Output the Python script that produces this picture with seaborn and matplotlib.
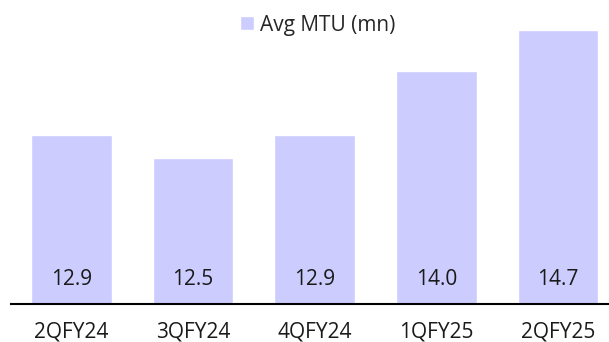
import matplotlib
matplotlib.use("Agg")
import matplotlib.pyplot as plt
import seaborn as sns
import pandas as pd

quarters = ["2QFY24", "3QFY24", "4QFY24", "1QFY25", "2QFY25"]
avg_mtu = [12.9, 12.5, 12.9, 14.0, 14.7]
series_name = "Avg MTU (mn)"
bar_color = "#CCCCFF"

sns.set_theme(style="white")
plt.rcParams["font.family"] = ["Open Sans", "DejaVu Sans"]

df = pd.DataFrame({"quarter": quarters, "value": avg_mtu})

fig = plt.figure(figsize=(6.09, 3.42), dpi=100)
ax = fig.add_axes([11 / 609, 38 / 342, 598 / 609, 304 / 342])

sns.barplot(data=df, x="quarter", y="value", color=bar_color, width=0.664,
            saturation=1, label=series_name, ax=ax)

ax.set_ylim(10, 10 + 304 / 58.3)
ax.set_xlim(-0.497, 4.42)

for i, v in enumerate(avg_mtu):
    ax.annotate(f"{v:.1f}", xy=(i, 10), xytext=(0, 13.4), textcoords="offset points",
                ha="center", va="baseline", fontsize=15, color="#1a1a1a")

for side in ["left", "right", "top"]:
    ax.spines[side].set_visible(False)
ax.spines["bottom"].set_color("black")
ax.spines["bottom"].set_linewidth(1.5)
ax.set_yticks([])
ax.set_xlabel("")
ax.set_ylabel("")
ax.tick_params(axis="x", length=0, pad=12.5, labelsize=15, labelcolor="#1a1a1a")

ax.legend(loc="center", bbox_to_anchor=(318 / 609, 1 - 25 / 342),
          bbox_transform=fig.transFigure, frameon=False, fontsize=15,
          handlelength=0.65, handleheight=0.65, handletextpad=0.3,
          borderpad=0, borderaxespad=0)

fig.savefig("out.png", dpi=100)
